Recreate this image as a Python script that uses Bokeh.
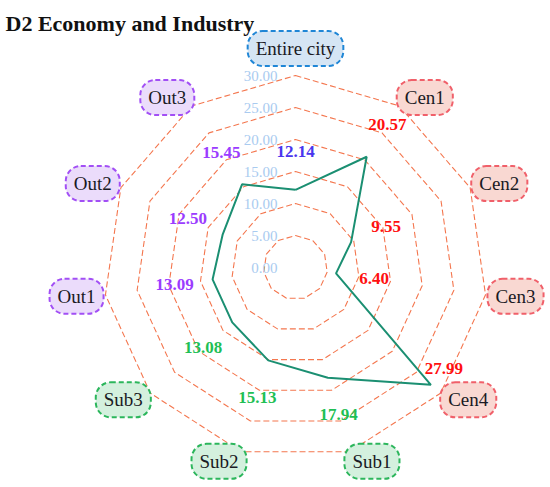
import numpy as np
from bokeh.plotting import figure
from bokeh.models import ColumnDataSource, Label
from bokeh.core.properties import value
from bokeh.embed import file_html
from bokeh.resources import INLINE

# ---- data ----
categories = ["Entire city", "Cen1", "Cen2", "Cen3", "Cen4", "Sub1", "Sub2", "Sub3", "Out1", "Out2", "Out3"]
scores = [12.14, 20.57, 9.55, 6.40, 27.99, 17.94, 15.13, 13.08, 13.09, 12.50, 15.45]
groups = ["city", "cen", "cen", "cen", "cen", "sub", "sub", "sub", "out", "out", "out"]
levels = [0, 5, 10, 15, 20, 25, 30]
title_text = "D2 Economy and Industry"

# ---- styles ----
FONT = "Liberation Serif"
box_fill = {"city": "#d5e5f4", "cen": "#f9d8d2", "sub": "#d4f0de", "out": "#ebdcfb"}
box_line = {"city": "#1f86d6", "cen": "#f0606a", "sub": "#2cb65c", "out": "#a24ff5"}
val_color = {"city": "#4a35ee", "cen": "#ff1010", "sub": "#1fbf55", "out": "#9b3cff"}
ring_color = "#f4774f"
line_color = "#1b8f72"

W, H = 550, 487
scale = 6.4          # px per unit
cx_px, cy_px = 295, 267
p = figure(width=W, height=H, output_backend="svg", toolbar_location=None,
           x_range=(-cx_px / scale, (W - cx_px) / scale),
           y_range=(-(H - cy_px) / scale, cy_px / scale),
           min_border=0)
p.axis.visible = False
p.grid.visible = False
p.outline_line_color = None
p.background_fill_color = "white"

n = len(categories)
theta = np.arange(n) * 2 * np.pi / n
sx, sy = np.sin(theta), np.cos(theta)

# rings
for lv in levels[1:]:
    xs = list(lv * sx) + [lv * sx[0]]
    ys = list(lv * sy) + [lv * sy[0]]
    p.line(xs, ys, line_color=ring_color, line_width=1.1, line_dash="6 3")

# ring labels
lab_off = -18 / scale
p.text(x=[lab_off] * len(levels), y=levels, text=["%.2f" % lv for lv in levels],
       text_font=value(FONT), text_font_size="15px", text_color="#a9cbf0",
       text_align="right", text_baseline="middle")

# data polygon
vals = np.array(scores)
p.line(list(vals * sx) + [vals[0] * sx[0]], list(vals * sy) + [vals[0] * sy[0]],
       line_color=line_color, line_width=2)

# value labels
lr, xo, yo = [], [], []
for v in scores:
    if v + 6 <= 30:
        lr.append(v + 6); xo.append(0); yo.append(0)
    else:
        lr.append(v); xo.append(13); yo.append(-16)
lr = np.array(lr)
vsrc = ColumnDataSource(dict(x=lr * sx, y=lr * sy, t=["%.2f" % v for v in scores],
                             c=[val_color[g] for g in groups], xo=xo, yo=yo))
p.text(x="x", y="y", text="t", source=vsrc, text_color="c", x_offset="xo", y_offset="yo",
       text_font=value(FONT), text_font_size="17px", text_font_style="bold",
       text_align="center", text_baseline="middle")

# category labels (name placed just beyond the outer ring, aligned away from centre)
rl = 202 / scale
aligns = ["center" if abs(s) < 1e-6 else ("left" if s > 0 else "right") for s in sx]
name_xo = [{"center": 0, "left": -8, "right": 8}[a] for a in aligns]
name_yo = [-17 if a == "center" else 0 for a in aligns]
csrc = ColumnDataSource(dict(x=rl * sx, y=rl * sy, t=categories, a=aligns, xo=name_xo, yo=name_yo,
                             f=[box_fill[g] for g in groups], b=[box_line[g] for g in groups]))
p.text(x="x", y="y", text="t", source=csrc, text_align="a", x_offset="xo", y_offset="yo",
       text_font=value(FONT), text_font_size="19px", text_color="#1a1a24",
       text_baseline="middle",
       background_fill_color="f", border_line_color="b", border_line_width=2,
       border_line_dash="5 3", padding=(8, 7), border_radius=15)

# title
p.add_layout(Label(x=5, y=H - 23, x_units="screen", y_units="screen", text=title_text,
                   text_font=FONT, text_font_size="22px", text_font_style="bold",
                   text_color="#111111", text_baseline="alphabetic"))

open("out.html", "w").write(file_html(p, INLINE))
